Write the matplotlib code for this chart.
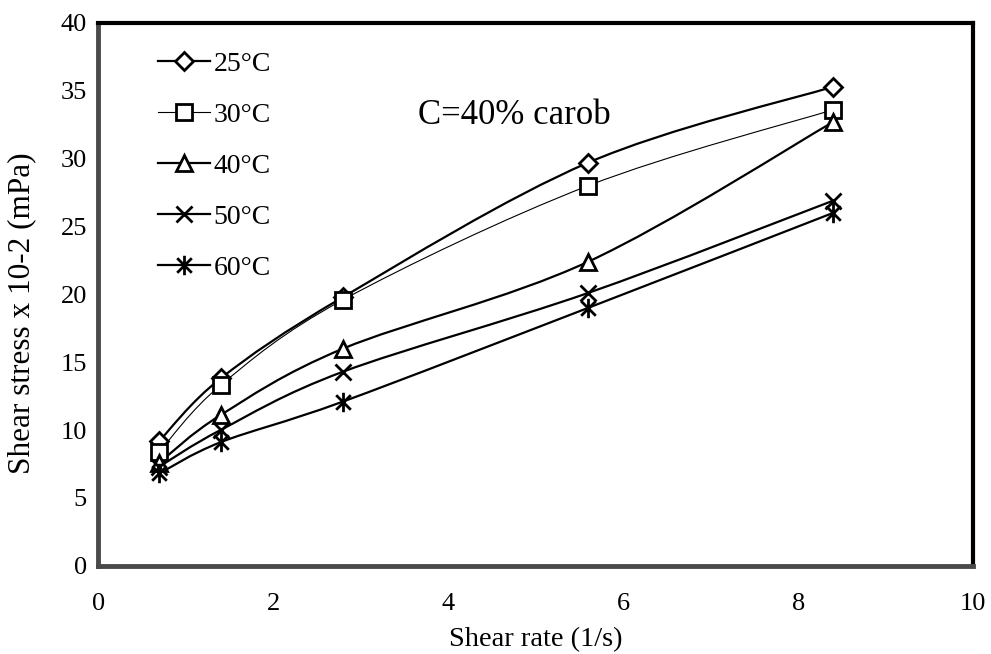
import matplotlib.pyplot as plt
from matplotlib.path import Path
from matplotlib.patches import PathPatch
from matplotlib.lines import Line2D

plt.rcParams['font.family'] = ['Liberation Serif', 'DejaVu Serif']

shear_rate = [0.7, 1.4, 2.8, 5.6, 8.4]
labels = ['25°C', '30°C', '40°C', '50°C', '60°C']
stress_25 = [9.2, 13.8, 19.8, 29.7, 35.3]
stress_30 = [8.4, 13.3, 19.6, 28.0, 33.6]
stress_40 = [7.6, 11.1, 16.0, 22.4, 32.7]
stress_50 = [7.3, 10.0, 14.3, 20.1, 26.9]
stress_60 = [6.8, 9.1, 12.1, 19.0, 26.0]

# excel style star: vertical bar plus an x
star = Path([(0, -1), (0, 1), (-0.75, -0.75), (0.75, 0.75), (-0.75, 0.75), (0.75, -0.75)],
            [Path.MOVETO, Path.LINETO, Path.MOVETO, Path.LINETO, Path.MOVETO, Path.LINETO])

series = [stress_25, stress_30, stress_40, stress_50, stress_60]
markers = ['D', 's', '^', 'x', star]
msizes = [9, 11, 11, 12, 14]
lws = [1.6, 0.8, 1.6, 1.6, 1.6]


def smooth_path(xs, ys):
    # excel-like smoothed line: cubic bezier through the points
    pts = list(zip(xs, ys))
    verts = [pts[0]]
    codes = [Path.MOVETO]
    n = len(pts)
    for i in range(n - 1):
        p0 = pts[i - 1] if i > 0 else pts[i]
        p1 = pts[i]
        p2 = pts[i + 1]
        p3 = pts[i + 2] if i + 2 < n else pts[i + 1]
        c1 = (p1[0] + (p2[0] - p0[0]) / 6, p1[1] + (p2[1] - p0[1]) / 6)
        c2 = (p2[0] - (p3[0] - p1[0]) / 6, p2[1] - (p3[1] - p1[1]) / 6)
        verts += [c1, c2, p2]
        codes += [Path.CURVE4] * 3
    return Path(verts, codes)


fig = plt.figure(figsize=(9.91, 6.54), dpi=100)
ax = fig.add_axes([0.099, 0.135, 0.883, 0.83])

handles = []
for ys, m, ms, lw, lab in zip(series, markers, msizes, lws, labels):
    ax.add_patch(PathPatch(smooth_path(shear_rate, ys), facecolor='none',
                           edgecolor='black', lw=lw, zorder=2))
    ax.plot(shear_rate, ys, linestyle='none', marker=m, markersize=ms,
            markerfacecolor='white', markeredgecolor='black',
            markeredgewidth=2.0, zorder=3)
    handles.append(Line2D([], [], color='black', lw=lw, marker=m, markersize=ms,
                          markerfacecolor='white', markeredgecolor='black',
                          markeredgewidth=2.0, label=lab))

ax.set_xlim(0, 10)
ax.set_ylim(0, 40)
ax.set_xticks([0, 2, 4, 6, 8, 10])
ax.set_yticks(range(0, 41, 5))
ax.tick_params(length=0, labelsize=19)
ax.tick_params(axis='y', pad=8)
ax.tick_params(axis='x', pad=20)

for s in ['top', 'right']:
    ax.spines[s].set_linewidth(3)
    ax.spines[s].set_color('black')
for s in ['left', 'bottom']:
    ax.spines[s].set_linewidth(3.5)
    ax.spines[s].set_color('#4a4a4a')

ax.set_xlabel('Shear rate (1/s)', fontsize=20.5, labelpad=8)
ax.set_ylabel('Shear stress x 10-2 (mPa)', fontsize=22.5)
ax.yaxis.set_label_coords(-0.071, 0.465)

ax.text(0.366, 0.814, 'C=40% carob', transform=ax.transAxes, fontsize=25)

ax.legend(handles=handles, loc='upper left', bbox_to_anchor=(0.04, 0.993),
          frameon=False, fontsize=20, handlelength=1.85, handletextpad=0.15,
          labelspacing=0.92)

fig.savefig('out.png', dpi=100)
